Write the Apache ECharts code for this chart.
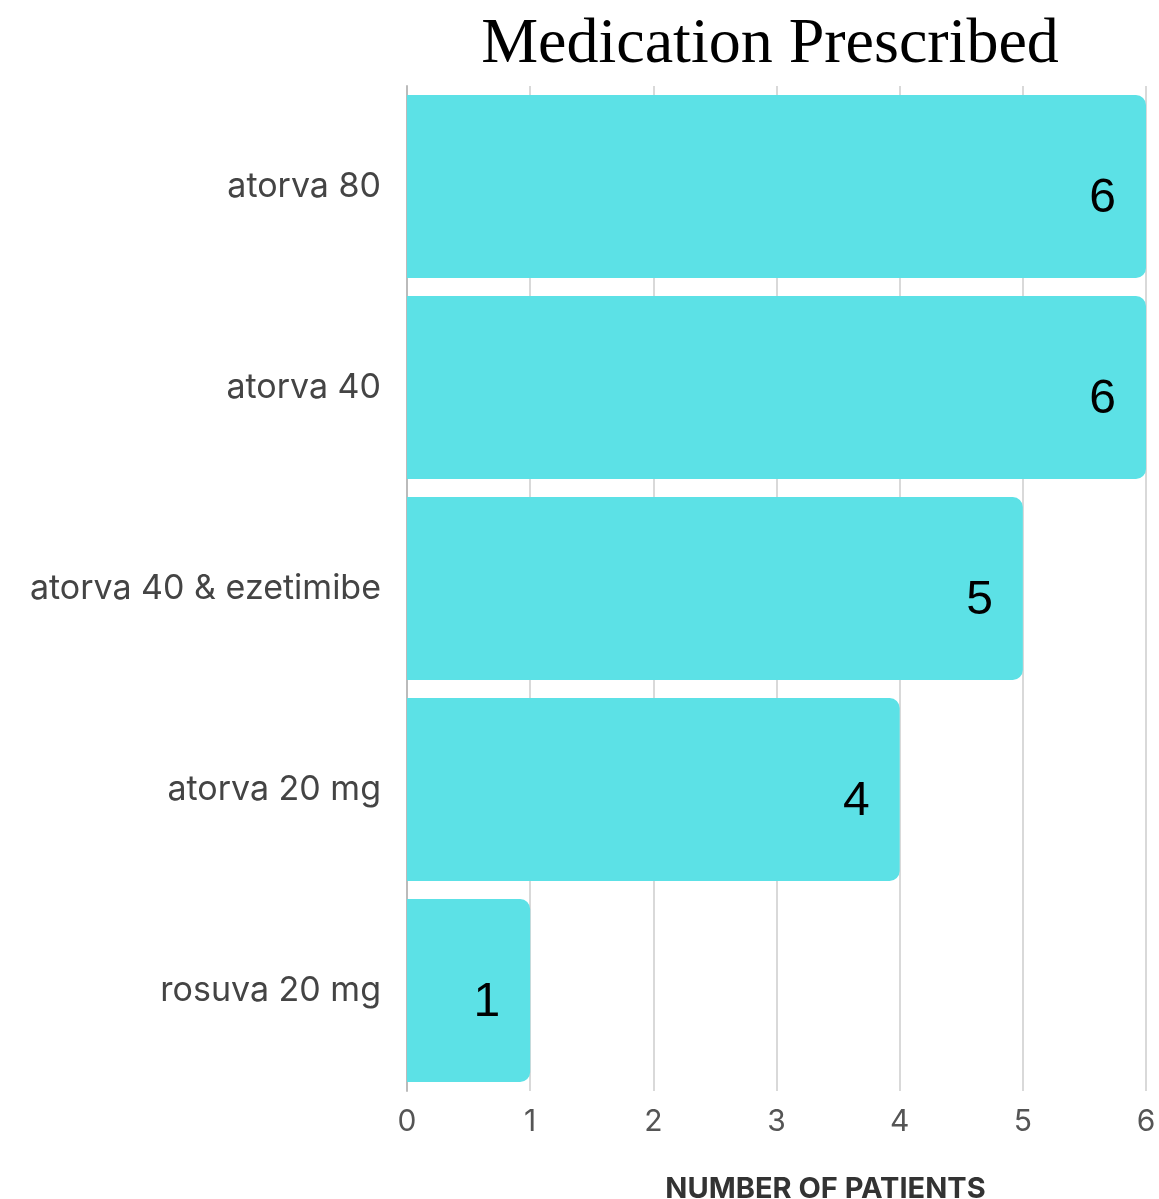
<!DOCTYPE html>
<html>
<head>
<meta charset="utf-8">
<script src="https://cdn.jsdelivr.net/npm/echarts@6/dist/echarts.min.js"></script>
<style>
  html, body { margin: 0; padding: 0; background: #fff; }
  #main { width: 1159px; height: 1199px; }
</style>
</head>
<body>
<div id="main"></div>
<script>
// data, top to bottom
const medications = ['atorva 80', 'atorva 40', 'atorva 40 & ezetimibe', 'atorva 20 mg', 'rosuva 20 mg']
const patients = [6, 6, 5, 4, 1]
const xTicks = [0, 1, 2, 3, 4, 5, 6]

var myChart = echarts.init(document.getElementById('main'))

myChart.setOption({
  animation: false,
  title: {
    text: 'Medication Prescribed',
    left: 765,
    top: 8,
    textAlign: 'center',
    textStyle: {
      fontFamily: 'Liberation Serif',
      fontWeight: 'normal',
      fontSize: 64,
      color: '#000'
    }
  },
  grid: {
    left: 407,
    right: 13,
    top: 86,
    height: 1005,
    outerBoundsMode: 'none'
  },
  xAxis: {
    type: 'value',
    min: xTicks[0],
    max: xTicks[xTicks.length - 1],
    interval: 1,
    name: 'NUMBER OF PATIENTS',
    nameLocation: 'middle',
    nameGap: 84,
    nameTextStyle: {
      fontFamily: 'Inter',
      fontWeight: 'bold',
      fontSize: 29,
      color: '#333',
      padding: [0, 0, 0, 98]
    },
    axisLine: { show: false },
    axisTick: { show: false },
    axisLabel: {
      margin: 16,
      fontFamily: 'Inter',
      fontSize: 30,
      color: '#555'
    },
    splitLine: { lineStyle: { color: '#d9d9d9', width: 2 } }
  },
  yAxis: {
    type: 'category',
    inverse: true,
    data: medications,
    axisLine: { lineStyle: { color: '#bbb', width: 2 } },
    axisTick: { show: false },
    axisLabel: {
      margin: 26,
      fontFamily: 'Inter',
      fontSize: 34,
      color: '#444'
    }
  },
  series: [{
    type: 'bar',
    data: patients,
    barCategoryGap: '9%',
    itemStyle: {
      color: '#5ce1e6',
      borderRadius: [0, 10, 10, 0]
    },
    label: {
      show: true,
      position: 'insideRight',
      distance: 30,
      offset: [0, 12],
      fontFamily: 'Liberation Sans',
      fontSize: 48,
      color: '#000'
    }
  }]
})
</script>
</body>
</html>
